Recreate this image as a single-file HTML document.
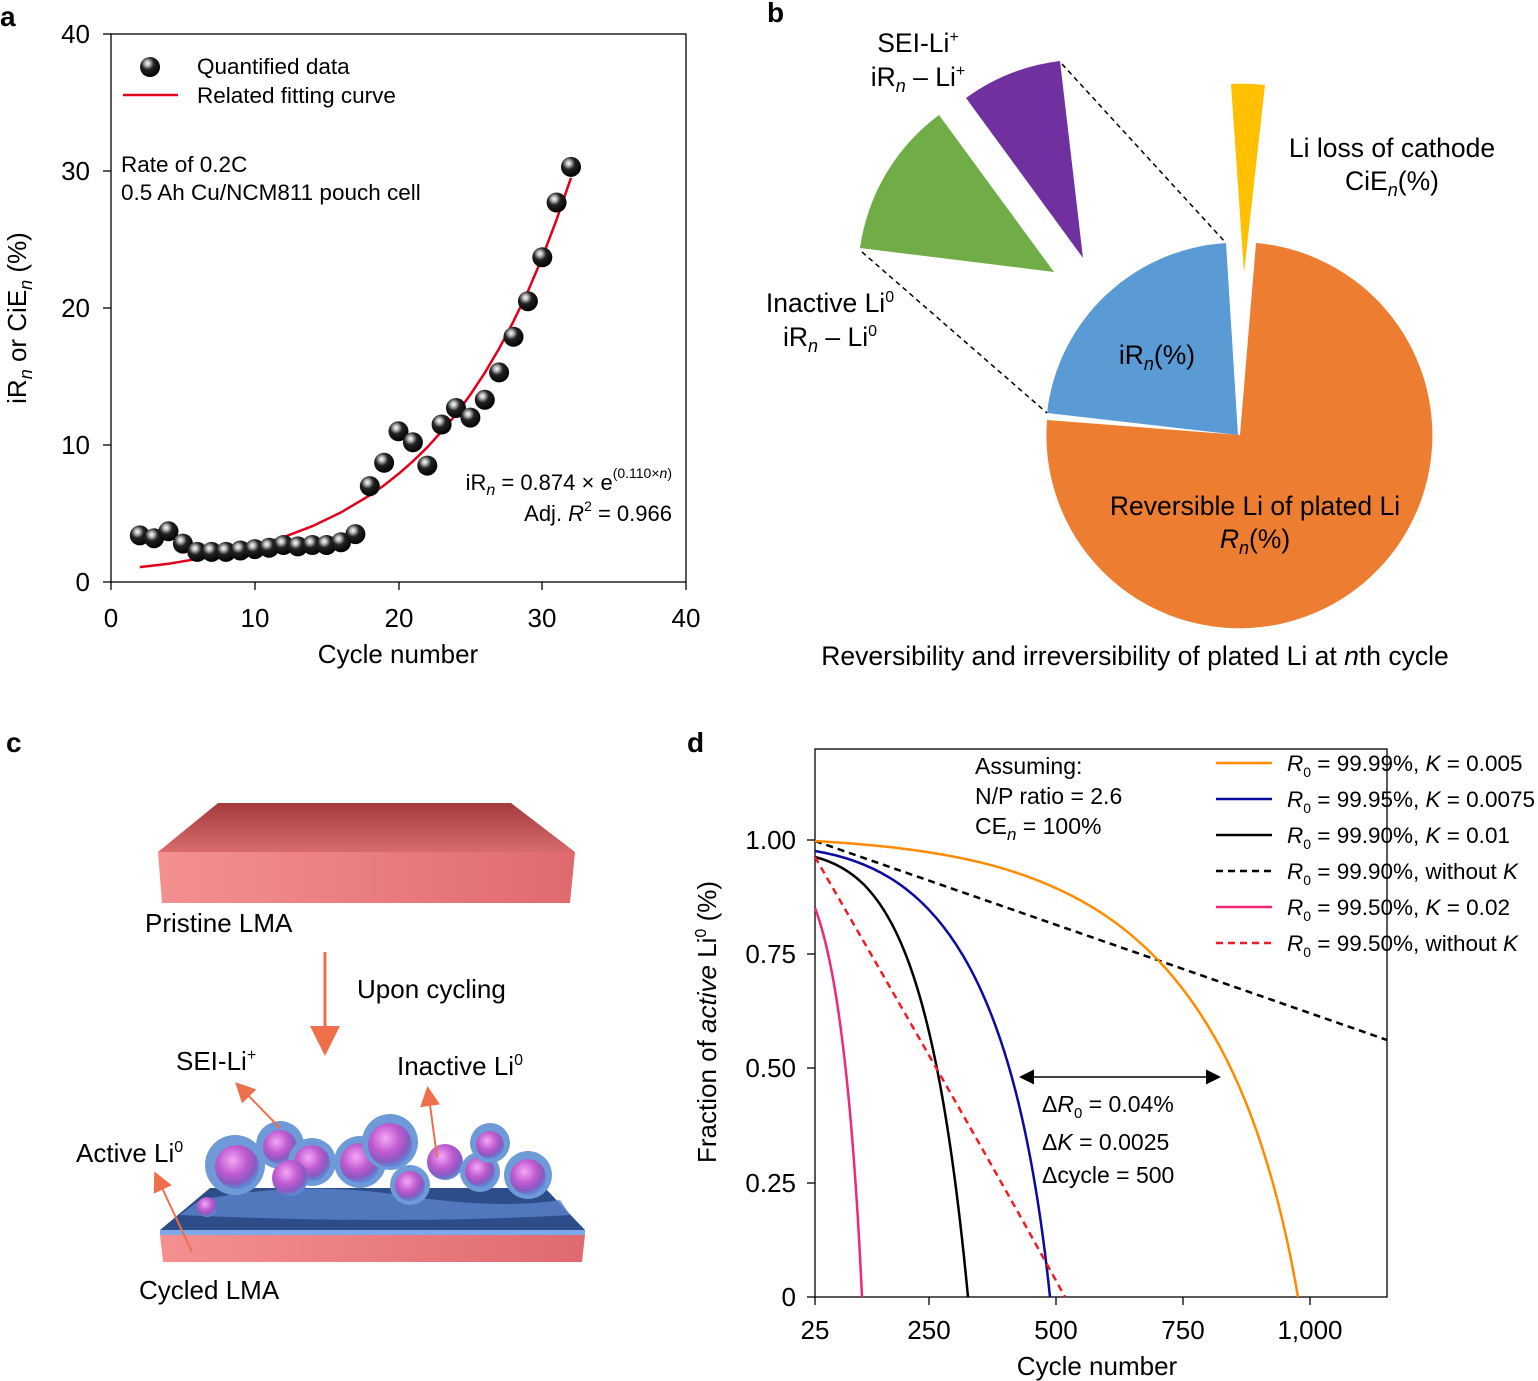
<!DOCTYPE html>
<html><head><meta charset="utf-8"><style>
html,body{margin:0;padding:0;background:#fff}
svg{display:block;font-family:"Liberation Sans",Arial,sans-serif}
</style></head><body>
<svg width="1538" height="1381" viewBox="0 0 1538 1381" xmlns="http://www.w3.org/2000/svg">
<defs>
<radialGradient id="ball" cx="0.38" cy="0.32" r="0.7">
<stop offset="0" stop-color="#fff"/><stop offset="0.18" stop-color="#bbb"/><stop offset="0.45" stop-color="#222"/><stop offset="1" stop-color="#000"/></radialGradient>
<linearGradient id="slabTop" x1="0" y1="0" x2="0" y2="1"><stop offset="0" stop-color="#a53a3e"/><stop offset="1" stop-color="#d86a6c"/></linearGradient>
<linearGradient id="slabFront" x1="0" y1="0" x2="1" y2="0"><stop offset="0" stop-color="#f49090"/><stop offset="1" stop-color="#e06a6e"/></linearGradient>
<radialGradient id="blob" cx="0.4" cy="0.35" r="0.65"><stop offset="0" stop-color="#f4a8f6"/><stop offset="0.5" stop-color="#c05ad0"/><stop offset="0.8" stop-color="#8a5ac0"/><stop offset="1" stop-color="#5a8ad8"/></radialGradient>
<marker id="ah" markerWidth="10" markerHeight="10" refX="8" refY="5" orient="auto-start-reverse"><path d="M0,0 L10,5 L0,10 z" fill="#000"/></marker>
<marker id="oa" markerWidth="10" markerHeight="10" refX="8" refY="5" orient="auto"><path d="M0,0 L10,5 L0,10 z" fill="#ee6f4a"/></marker>
</defs>

<g font-weight="bold" font-size="28">
<text x="0" y="26">a</text><text x="767" y="22">b</text><text x="6" y="752">c</text><text x="687" y="752">d</text></g>

<!-- Panel a -->
<rect x="111" y="34" width="575" height="548" fill="none" stroke="#000" stroke-width="1.3"/>
<g stroke="#000" stroke-width="1.3">
<line x1="111" y1="582" x2="111" y2="590"/><line x1="255" y1="582" x2="255" y2="590"/><line x1="399" y1="582" x2="399" y2="590"/><line x1="542" y1="582" x2="542" y2="590"/><line x1="686" y1="582" x2="686" y2="590"/>
<line x1="103" y1="582" x2="111" y2="582"/><line x1="103" y1="445" x2="111" y2="445"/><line x1="103" y1="308" x2="111" y2="308"/><line x1="103" y1="171" x2="111" y2="171"/><line x1="103" y1="34" x2="111" y2="34"/>
</g>
<g font-size="26" text-anchor="middle">
<text x="111" y="627">0</text><text x="255" y="627">10</text><text x="399" y="627">20</text><text x="542" y="627">30</text><text x="686" y="627">40</text>
<text x="398" y="663">Cycle number</text></g>
<g font-size="26" text-anchor="end">
<text x="90" y="591">0</text><text x="90" y="454">10</text><text x="90" y="317">20</text><text x="90" y="180">30</text><text x="90" y="43">40</text></g>
<text transform="translate(26,318) rotate(-90)" font-size="26" text-anchor="middle">iR<tspan font-style="italic" font-size="18" dy="6">n</tspan><tspan dy="-6"> or CiE</tspan><tspan font-style="italic" font-size="18" dy="6">n</tspan><tspan dy="-6"> (%)</tspan></text>
<circle cx="150" cy="67" r="10" fill="url(#ball)"/>
<line x1="123" y1="95" x2="178" y2="95" stroke="#e2001a" stroke-width="2.5"/>
<g font-size="22.5"><text x="197" y="74">Quantified data</text><text x="197" y="103">Related fitting curve</text>
<text x="121" y="172">Rate of 0.2C</text><text x="121" y="200">0.5 Ah Cu/NCM811 pouch cell</text></g>
<text x="672" y="490" font-size="22" text-anchor="end">iR<tspan font-style="italic" font-size="16" dy="5">n</tspan><tspan dy="-5"> = 0.874 × e</tspan><tspan font-size="14" dy="-12">(0.110×<tspan font-style="italic">n</tspan>)</tspan></text>
<text x="672" y="521" font-size="22" text-anchor="end">Adj. <tspan font-style="italic">R</tspan><tspan font-size="14" dy="-10">2</tspan><tspan dy="10"> = 0.966</tspan></text>
<path fill="none" stroke="#e2001a" stroke-width="2.5" d="M139.8,567.1 L168.5,563.8 L197.3,558.9 L226,553.3 L254.8,546.1 L283.5,537.2 L312.3,526.2 L341,512.4 L369.8,495.3 L384.1,485.3 L398.5,473.9 L412.9,461.3 L427.3,447.3 L441.6,431.5 L456,414.2 L470.4,394.6 L484.8,372.8 L499.1,348.6 L513.5,321.3 L527.9,291.3 L542.3,257.3 L556.6,219.6 L571,177.8"/>
<g fill="url(#ball)">
<circle cx="139.8" cy="535.4" r="10"/><circle cx="154.1" cy="538.2" r="10"/><circle cx="168.5" cy="531.3" r="10"/><circle cx="182.9" cy="543.6" r="10"/><circle cx="197.3" cy="551.9" r="10"/><circle cx="211.6" cy="551.9" r="10"/><circle cx="226" cy="551.9" r="10"/><circle cx="240.4" cy="550.5" r="10"/><circle cx="254.8" cy="549.1" r="10"/><circle cx="269.1" cy="547.8" r="10"/><circle cx="283.5" cy="545" r="10"/><circle cx="297.9" cy="546.4" r="10"/><circle cx="312.3" cy="545" r="10"/><circle cx="326.6" cy="545" r="10"/><circle cx="341" cy="542.3" r="10"/><circle cx="355.4" cy="534.1" r="10"/><circle cx="369.8" cy="486.1" r="10"/><circle cx="384.1" cy="462.8" r="10"/><circle cx="398.5" cy="431.3" r="10"/><circle cx="412.9" cy="442.3" r="10"/><circle cx="427.3" cy="465.6" r="10"/><circle cx="441.6" cy="424.5" r="10"/><circle cx="456" cy="408" r="10"/><circle cx="470.4" cy="417.6" r="10"/><circle cx="484.8" cy="399.8" r="10"/><circle cx="499.1" cy="372.4" r="10"/><circle cx="513.5" cy="336.8" r="10"/><circle cx="527.9" cy="301.2" r="10"/><circle cx="542.3" cy="257.3" r="10"/><circle cx="556.6" cy="202.5" r="10"/><circle cx="571" cy="166.9" r="10"/>
</g>

<!-- Panel b -->
<path d="M1240,435 L1256,243 A193,193 0 1 1 1047,420 Z" fill="#ed7d31"/>
<path d="M1238,435 L1047,413 A192,192 0 0 1 1226,243 Z" fill="#5b9bd5"/>
<path d="M1244,273 L1231,84 A190,190 0 0 1 1265,85 Z" fill="#ffc000"/>
<path d="M1083,258 L966,98 A200,200 0 0 1 1060,61 Z" fill="#7030a0"/>
<path d="M1054,272 L860,248 A200,200 0 0 1 939,115 Z" fill="#70ad47"/>
<g stroke="#000" stroke-width="1.5" stroke-dasharray="5,4"><line x1="1062" y1="64" x2="1226" y2="243"/><line x1="862" y1="252" x2="1047" y2="413"/></g>
<g font-size="26.5" text-anchor="middle">
<text x="918" y="52">SEI-Li<tspan font-size="16" dy="-10">+</tspan></text>
<text x="918" y="86">iR<tspan font-style="italic" font-size="18" dy="6">n</tspan><tspan dy="-6"> – Li</tspan><tspan font-size="16" dy="-10">+</tspan></text>
<text x="830" y="312">Inactive Li<tspan font-size="16" dy="-10">0</tspan></text>
<text x="830" y="346">iR<tspan font-style="italic" font-size="18" dy="6">n</tspan><tspan dy="-6"> – Li</tspan><tspan font-size="16" dy="-10">0</tspan></text>
<text x="1392" y="157">Li loss of cathode</text>
<text x="1392" y="190">CiE<tspan font-style="italic" font-size="18" dy="6">n</tspan><tspan dy="-6">(%)</tspan></text>
<text x="1157" y="364">iR<tspan font-style="italic" font-size="18" dy="6">n</tspan><tspan dy="-6">(%)</tspan></text>
<text x="1255" y="515">Reversible Li of plated Li</text>
<text x="1255" y="548"><tspan font-style="italic">R</tspan><tspan font-style="italic" font-size="18" dy="6">n</tspan><tspan dy="-6">(%)</tspan></text>
<text x="1135" y="665">Reversibility and irreversibility of plated Li at <tspan font-style="italic">n</tspan>th cycle</text>
</g>

<!-- Panel c -->
<polygon points="158,852 218,803 511,803 575,852" fill="url(#slabTop)"/>
<polygon points="158,852 575,852 570,903 162,903" fill="url(#slabFront)"/>
<line x1="325" y1="952" x2="325" y2="1050" stroke="#ee6f4a" stroke-width="3" marker-end="url(#oa)"/>
<polygon points="160,1230 210,1188 545,1188 585,1230" fill="#2d4c8a"/>
<path d="M200,1200 Q300,1180 400,1195 T560,1200 L570,1215 Q400,1225 180,1215 Z" fill="#5a82c8" opacity="0.8"/>
<rect x="160" y="1230" width="425" height="5" fill="#7ea8ea"/>
<polygon points="160,1235 585,1235 582,1262 163,1262" fill="url(#slabFront)"/>
<g>
<circle cx="235" cy="1165" r="30" fill="#6f9ad8"/><circle cx="237" cy="1167" r="22" fill="url(#blob)"/>
<circle cx="280" cy="1145" r="24" fill="#6f9ad8"/><circle cx="280" cy="1147" r="17" fill="url(#blob)"/>
<circle cx="312" cy="1162" r="24" fill="#6f9ad8"/><circle cx="312" cy="1163" r="18" fill="url(#blob)"/>
<circle cx="290" cy="1178" r="18" fill="url(#blob)"/>
<circle cx="360" cy="1162" r="26" fill="#6f9ad8"/><circle cx="360" cy="1163" r="20" fill="url(#blob)"/>
<circle cx="390" cy="1142" r="28" fill="#6f9ad8"/><circle cx="390" cy="1145" r="22" fill="url(#blob)"/>
<circle cx="410" cy="1185" r="20" fill="#6f9ad8"/><circle cx="410" cy="1186" r="15" fill="url(#blob)"/>
<circle cx="445" cy="1162" r="18" fill="url(#blob)"/>
<circle cx="480" cy="1172" r="20" fill="#6f9ad8"/><circle cx="480" cy="1172" r="15" fill="url(#blob)"/>
<circle cx="490" cy="1143" r="20" fill="#6f9ad8"/><circle cx="490" cy="1145" r="14" fill="url(#blob)"/>
<circle cx="528" cy="1175" r="24" fill="#6f9ad8"/><circle cx="528" cy="1177" r="18" fill="url(#blob)"/>
<circle cx="207" cy="1207" r="10" fill="url(#blob)"/>
</g>
<g stroke="#ee6f4a" stroke-width="2">
<line x1="280" y1="1128" x2="238" y2="1085" marker-end="url(#oa)"/>
<line x1="437" y1="1157" x2="428" y2="1090" marker-end="url(#oa)"/>
<line x1="192" y1="1252" x2="156" y2="1175" marker-end="url(#oa)"/>
</g>
<g font-size="26">
<text x="145" y="932">Pristine LMA</text>
<text x="357" y="998">Upon cycling</text>
<text x="176" y="1070">SEI-Li<tspan font-size="16" dy="-10">+</tspan></text>
<text x="397" y="1075">Inactive Li<tspan font-size="16" dy="-10">0</tspan></text>
<text x="76" y="1162">Active Li<tspan font-size="16" dy="-10">0</tspan></text>
<text x="139" y="1299">Cycled LMA</text>
</g>

<!-- Panel d -->
<rect x="815" y="749" width="572" height="548" fill="none" stroke="#000" stroke-width="1.3"/>
<g stroke="#000" stroke-width="1.3">
<line x1="807" y1="840" x2="815" y2="840"/><line x1="807" y1="954" x2="815" y2="954"/><line x1="807" y1="1068" x2="815" y2="1068"/><line x1="807" y1="1183" x2="815" y2="1183"/><line x1="807" y1="1297" x2="815" y2="1297"/>
<line x1="815" y1="1297" x2="815" y2="1305"/><line x1="929" y1="1297" x2="929" y2="1305"/><line x1="1056" y1="1297" x2="1056" y2="1305"/><line x1="1183" y1="1297" x2="1183" y2="1305"/><line x1="1310" y1="1297" x2="1310" y2="1305"/>
</g>
<g font-size="26" text-anchor="end">
<text x="796" y="849">1.00</text><text x="796" y="963">0.75</text><text x="796" y="1077">0.50</text><text x="796" y="1192">0.25</text><text x="796" y="1306">0</text></g>
<g font-size="26" text-anchor="middle">
<text x="815" y="1339">25</text><text x="929" y="1339">250</text><text x="1056" y="1339">500</text><text x="1183" y="1339">750</text><text x="1310" y="1339">1,000</text>
<text x="1097" y="1375">Cycle number</text></g>
<text transform="translate(716,1022) rotate(-90)" font-size="26" text-anchor="middle">Fraction of <tspan font-style="italic">active</tspan> Li<tspan font-size="16" dy="-10">0</tspan><tspan dy="10"> (%)</tspan></text>
<g fill="none" stroke-width="2.5">
<path d="M815,841 Q1100,940 1387,1040" stroke="#000" stroke-dasharray="7,5"/>
<path d="M815,841 C1050,855 1230,900 1298,1297" stroke="#ff8c00"/>
<path d="M815,851 C930,870 1015,960 1050,1297" stroke="#0a0aa0"/>
<path d="M815,857 C885,875 935,950 968,1297" stroke="#000"/>
<path d="M815,908 C835,960 852,1080 862,1297" stroke="#f0287a"/>
<path d="M815,857 C880,970 990,1160 1065,1297" stroke="#ee1c24" stroke-dasharray="7,5"/>
</g>
<line x1="1022" y1="1077" x2="1218" y2="1077" stroke="#000" stroke-width="1.5" marker-end="url(#ah)" marker-start="url(#ah)"/>
<g font-size="23">
<text x="975" y="774">Assuming:</text><text x="975" y="804">N/P ratio = 2.6</text>
<text x="975" y="834">CE<tspan font-style="italic" font-size="17" dy="6">n</tspan><tspan dy="-6"> = 100%</tspan></text>
<text x="1042" y="1112">Δ<tspan font-style="italic">R</tspan><tspan font-size="15" dy="6">0</tspan><tspan dy="-6"> = 0.04%</tspan></text>
<text x="1042" y="1150">Δ<tspan font-style="italic">K</tspan> = 0.0025</text>
<text x="1042" y="1183">Δcycle = 500</text>
</g>
<g stroke-width="2.5">
<line x1="1216" y1="763" x2="1272" y2="763" stroke="#ff8c00"/>
<line x1="1216" y1="799" x2="1272" y2="799" stroke="#0a0aa0"/>
<line x1="1216" y1="835" x2="1272" y2="835" stroke="#000"/>
<line x1="1216" y1="871" x2="1272" y2="871" stroke="#000" stroke-dasharray="7,5"/>
<line x1="1216" y1="907" x2="1272" y2="907" stroke="#f0287a"/>
<line x1="1216" y1="943" x2="1272" y2="943" stroke="#ee1c24" stroke-dasharray="7,5"/>
</g>
<g font-size="22.5">
<text x="1287" y="771"><tspan font-style="italic">R</tspan><tspan font-size="14" dy="6">0</tspan><tspan dy="-6"> = 99.99%, </tspan><tspan font-style="italic">K</tspan> = 0.005</text>
<text x="1287" y="807"><tspan font-style="italic">R</tspan><tspan font-size="14" dy="6">0</tspan><tspan dy="-6"> = 99.95%, </tspan><tspan font-style="italic">K</tspan> = 0.0075</text>
<text x="1287" y="843"><tspan font-style="italic">R</tspan><tspan font-size="14" dy="6">0</tspan><tspan dy="-6"> = 99.90%, </tspan><tspan font-style="italic">K</tspan> = 0.01</text>
<text x="1287" y="879"><tspan font-style="italic">R</tspan><tspan font-size="14" dy="6">0</tspan><tspan dy="-6"> = 99.90%, without </tspan><tspan font-style="italic">K</tspan></text>
<text x="1287" y="915"><tspan font-style="italic">R</tspan><tspan font-size="14" dy="6">0</tspan><tspan dy="-6"> = 99.50%, </tspan><tspan font-style="italic">K</tspan> = 0.02</text>
<text x="1287" y="951"><tspan font-style="italic">R</tspan><tspan font-size="14" dy="6">0</tspan><tspan dy="-6"> = 99.50%, without </tspan><tspan font-style="italic">K</tspan></text>
</g>
</svg>
</body></html>
